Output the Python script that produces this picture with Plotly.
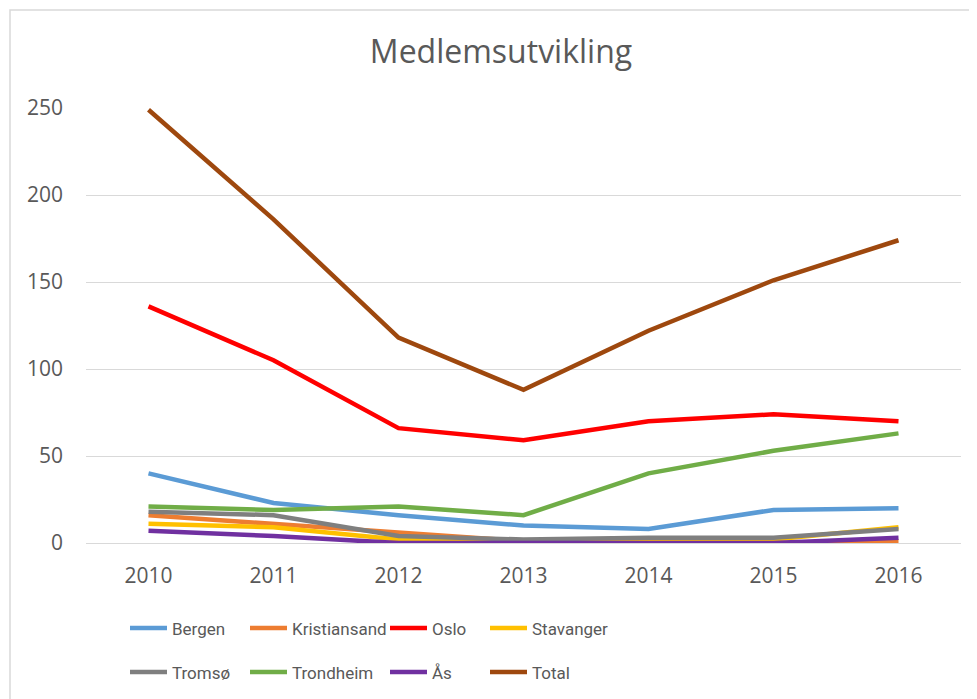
import plotly.graph_objects as go

years = ["2010", "2011", "2012", "2013", "2014", "2015", "2016"]
bergen = [40, 23, 16, 10, 8, 19, 20]
kristiansand = [16, 11, 6, 1, 0, 0, 1]
oslo = [136, 105, 66, 59, 70, 74, 70]
stavanger = [11, 9, 2, 1, 1, 2, 9]
tromso = [18, 16, 4, 2, 3, 3, 8]
trondheim = [21, 19, 21, 16, 40, 53, 63]
aas = [7, 4, 0, 0, 0, 0, 3]
total = [249, 186, 118, 88, 122, 151, 174]

# name, values, colour, legend group, legend entry width (px)
series = [
    ("Bergen", bergen, "#5B9BD5", "legend", 68),
    ("Kristiansand", kristiansand, "#ED7D31", "legend", 88),
    ("Oslo", oslo, "#FF0000", "legend", 48),
    ("Stavanger", stavanger, "#FFC000", "legend", 100),
    ("Tromsø", tromso, "#7F7F7F", "legend2", 68),
    ("Trondheim", trondheim, "#70AD47", "legend2", 88),
    ("Ås", aas, "#7030A0", "legend2", 48),
    ("Total", total, "#9E480E", "legend2", 100),
]

FONT = "Open Sans, Lato, sans-serif"
LFONT = "Roboto, sans-serif"
TXT = "#595959"

fig = go.Figure()
for name, vals, color, lg, lw in series:
    fig.add_trace(go.Scatter(
        x=years, y=vals, name=name, mode="lines",
        line=dict(color=color, width=4.5),
        legend=lg, legendwidth=lw,
    ))

OFF = 8  # page body margin
W, H = 977 - OFF, 699 - OFF
ml, mr, mt, mb = 86 - OFF, 16, 108 - OFF, 156
pw = W - ml - mr
ph = H - mt - mb

def px_x(px):
    return (px - OFF - ml) / pw

def px_y(py):
    return (H - mb - (py - OFF)) / ph

legend_common = dict(
    orientation="h", xanchor="left", yanchor="middle",
    font=dict(family=LFONT, size=17, color=TXT),
    bgcolor="rgba(0,0,0,0)", itemwidth=37,
    traceorder="normal",
)

fig.update_layout(
    width=W, height=H,
    margin=dict(l=ml, r=mr, t=mt, b=mb, autoexpand=False),
    paper_bgcolor="white", plot_bgcolor="white",
    font=dict(family=FONT, color=TXT),
    title=dict(text="Medlemsutvikling", x=(501 - OFF) / W, xanchor="center",
               y=1 - (52 - OFF) / H, yanchor="middle",
               font=dict(family=FONT, size=32, color=TXT)),
    xaxis=dict(
        type="category", range=[-0.5, 6.5],
        showgrid=False, showline=False, zeroline=False,
        tickfont=dict(family=FONT, size=21, color=TXT),
        ticks="", ticklabelstandoff=18,
    ),
    yaxis=dict(
        range=[0, 250], tickvals=[0, 50, 100, 150, 200, 250],
        showgrid=True, gridcolor="#D9D9D9", gridwidth=1,
        zeroline=True, zerolinecolor="#D9D9D9", zerolinewidth=1,
        showline=False, ticks="",
        tickfont=dict(family=FONT, size=21, color=TXT),
        ticklabelstandoff=22,
    ),
    legend=dict(x=px_x(125), y=px_y(628.5), **legend_common),
    legend2=dict(x=px_x(125), y=px_y(672.5), **legend_common),
    shapes=[
        dict(type="rect", xref="paper", yref="paper",
             x0=px_x(10), x1=px_x(1000), y0=px_y(720), y1=px_y(10),
             line=dict(color="#D9D9D9", width=1.5), fillcolor="rgba(0,0,0,0)",
             layer="below"),
    ],
    showlegend=True,
)

fig.write_html("out.html")
